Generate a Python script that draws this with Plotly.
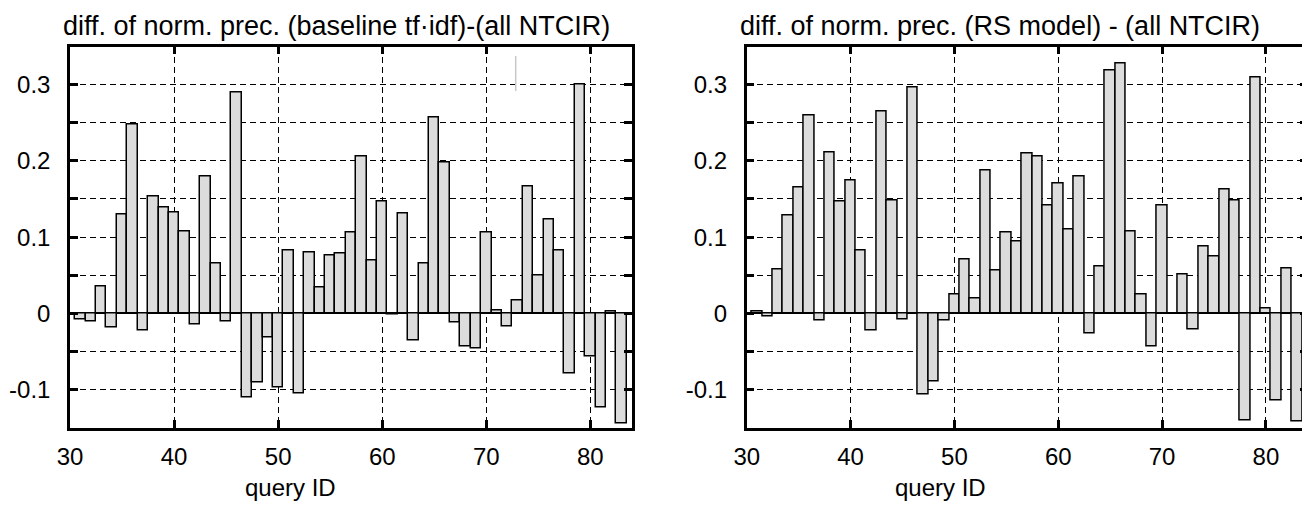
import plotly.graph_objects as go

# ---------------- data ----------------
query_ids = list(range(31, 84))

baseline_diff = [
    -0.008, -0.011, 0.035, -0.018, 0.129, 0.248, -0.023, 0.153, 0.139, 0.132,   # 31-40
    0.108, -0.014, 0.179, 0.066, -0.011, 0.290, -0.110, -0.091, -0.032, -0.097,  # 41-50
    0.083, -0.105, 0.080, 0.034, 0.076, 0.078, 0.106, 0.206, 0.069, 0.147,      # 51-60
    -0.002, 0.131, -0.036, 0.065, 0.257, 0.198, -0.012, -0.044, -0.046, 0.106,  # 61-70
    0.004, -0.017, 0.017, 0.167, 0.049, 0.123, 0.082, -0.079, 0.300, -0.056,    # 71-80
    -0.124, 0.002, -0.145,                                                      # 81-83
]

rs_model_diff = [
    0.002, -0.004, 0.057, 0.128, 0.165, 0.259, -0.010, 0.211, 0.147, 0.174,     # 31-40
    0.083, -0.022, 0.265, 0.148, -0.008, 0.296, -0.107, -0.089, -0.010, 0.025,  # 41-50
    0.070, 0.019, 0.188, 0.056, 0.106, 0.094, 0.210, 0.206, 0.141, 0.170,       # 51-60
    0.110, 0.180, -0.026, 0.062, 0.318, 0.328, 0.108, 0.025, -0.044, 0.141,     # 61-70
    None, 0.051, -0.021, 0.088, 0.074, 0.162, 0.148, -0.140, 0.310, 0.007,      # 71-80
    -0.114, 0.059, -0.142,                                                      # 81-83
]

x_tick_vals = [30, 40, 50, 60, 70, 80]
y_tick_vals = [-0.1, -0.05, 0, 0.05, 0.1, 0.15, 0.2, 0.25, 0.3]
y_tick_text = ["-0.1", "", "0", "", "0.1", "", "0.2", "", "0.3"]

titles = [
    "diff. of norm. prec. (baseline tf\u00b7idf)-(all NTCIR)",
    "diff. of norm. prec. (RS model) - (all NTCIR)",
]
x_label = "query ID"

# ---------------- figure ----------------
OFF = 8                      # page body margin
W, H = 1310 - OFF, 506 - OFF
FONT = "Liberation Sans, Arial, Helvetica, sans-serif"
TICK_SIZE = 24
TITLE_SIZE = 27

fig = go.Figure()

bar_style = dict(
    marker=dict(color="#dcdcdc", line=dict(color="black", width=1.5)),
    width=1.0,
    showlegend=False,
)
fig.add_trace(go.Bar(x=query_ids, y=baseline_diff, xaxis="x", yaxis="y", **bar_style))
fig.add_trace(go.Bar(x=query_ids, y=rs_model_diff, xaxis="x2", yaxis="y2", **bar_style))

def px_x(p):
    return (p - OFF) / W

def px_y(p):
    return 1 - (p - OFF) / H

x_common = dict(
    range=[29.995, 84],
    automargin=False,
    tickmode="array",
    tickvals=x_tick_vals,
    ticks="inside",
    ticklen=8,
    tickwidth=3,
    tickcolor="black",
    showline=True,
    linewidth=2.5,
    linecolor="black",
    mirror="ticks",
    showgrid=True,
    gridcolor="black",
    gridwidth=1,
    griddash="6px,4px",
    zeroline=False,
    tickfont=dict(size=TICK_SIZE, color="black", family=FONT),
    ticklabelstandoff=6,
)
y_common = dict(
    range=[-0.15, 0.35],
    automargin=False,
    tickmode="array",
    tickvals=y_tick_vals,
    ticktext=y_tick_text,
    ticks="inside",
    ticklen=8,
    tickwidth=3,
    tickcolor="black",
    showline=True,
    linewidth=2.5,
    linecolor="black",
    mirror="ticks",
    showgrid=True,
    gridcolor="black",
    gridwidth=1,
    griddash="6px,4px",
    zeroline=True,
    zerolinecolor="black",
    zerolinewidth=1.5,
    tickfont=dict(size=TICK_SIZE, color="black", family=FONT),
    ticklabelstandoff=12,
)

ydom = [px_y(427.7), px_y(46.5)]
fig.update_layout(
    width=W,
    height=H,
    autosize=False,
    margin=dict(l=0, r=0, t=0, b=0, pad=0, autoexpand=False),
    paper_bgcolor="white",
    plot_bgcolor="white",
    bargap=0,
    font=dict(family=FONT, color="black"),
    xaxis=dict(domain=[px_x(70), px_x(632)], anchor="y", **x_common),
    yaxis=dict(domain=ydom, anchor="x", **y_common),
    xaxis2=dict(domain=[px_x(746.7), px_x(1307.5)], anchor="y2", **x_common),
    yaxis2=dict(domain=ydom, anchor="x2", **y_common),
)

# titles
for xpx, t in [(61, titles[0]), (738, titles[1])]:
    fig.add_annotation(
        text=t, x=px_x(xpx), y=px_y(26), xref="paper", yref="paper",
        xanchor="left", yanchor="middle", showarrow=False,
        font=dict(size=TITLE_SIZE, color="black", family=FONT),
    )
# x-axis labels
for xpx in [290, 940]:
    fig.add_annotation(
        text=x_label, x=px_x(xpx), y=px_y(487), xref="paper", yref="paper",
        xanchor="center", yanchor="middle", showarrow=False,
        font=dict(size=TICK_SIZE, color="black", family=FONT),
    )

# faint gray stroke visible in the original image
fig.add_shape(type="line", xref="paper", yref="paper",
              x0=px_x(515.7), x1=px_x(515.7), y0=px_y(56), y1=px_y(91),
              line=dict(color="#c8c8c8", width=1.5))

fig.write_html("out.html")
